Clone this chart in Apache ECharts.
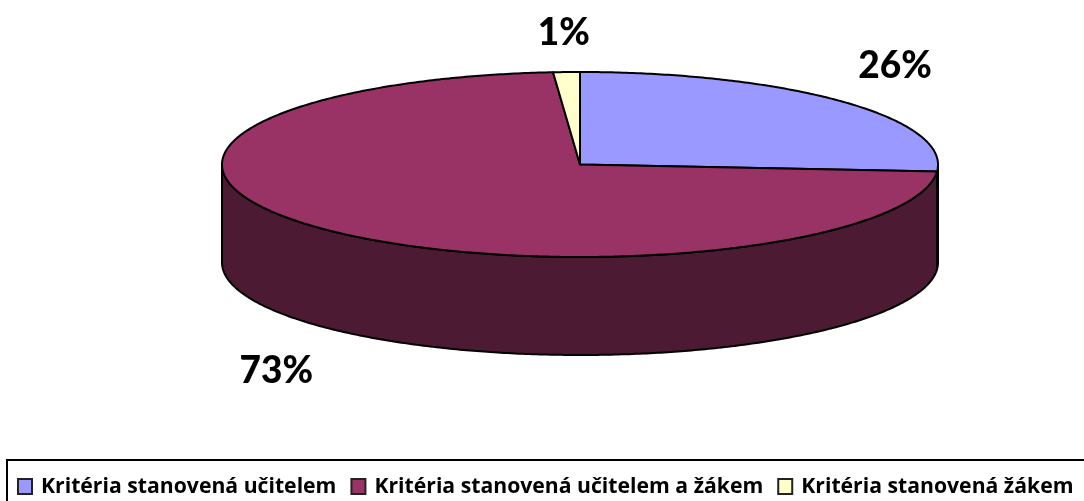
<!DOCTYPE html>
<html>
<head>
<meta charset="utf-8">
<style>
    html, body { margin: 0; padding: 0; background: #fff; overflow: hidden; }
    #chart { width: 1084px; height: 501px; }
</style>
<script src="https://cdn.jsdelivr.net/npm/echarts@6/dist/echarts.min.js"></script>
</head>
<body>
<div id="chart"></div>
<script>
const categories = ['Kritéria stanovená učitelem', 'Kritéria stanovená učitelem a žákem', 'Kritéria stanovená žákem']
const shares = [26.2, 72.6, 1.2]
const topColors = ['#9999FF', '#993366', '#FFFFCC']
const wallColors = ['#4D4D80', '#4D1A33', '#808066']

// ellipse of the pie top, and height of the side wall
const cx = 580
const cy = 164.5
const rx = 358
const ry = 92.5
const depth = 98

const total = shares.reduce((a, b) => a + b, 0)
const toAngle = v => echarts.number.linearMap(v, [0, total], [0, Math.PI * 2])
const rimPoint = (a, drop) => [cx + rx * Math.sin(a), cy - ry * Math.cos(a) + drop]

function arcPoints (from, to, drop) {
    const pts = []
    const steps = Math.max(2, Math.ceil((to - from) / 0.01))
    for (let i = 0; i <= steps; i++) {
        pts.push(rimPoint(from + (to - from) * i / steps, drop))
    }
    return pts
}

function renderSlice (params, api) {
    const idx = params.seriesIndex
    const before = shares.slice(0, idx).reduce((a, b) => a + b, 0)
    const from = toAngle(before)
    const to = toAngle(before + api.value(0))
    const outline = {stroke: '#000', lineWidth: 2, lineJoin: 'round'}
    const children = []

    // only the front half of the rim (90deg to 270deg) has a visible wall
    const wallFrom = Math.max(from, Math.PI / 2)
    const wallTo = Math.min(to, Math.PI * 1.5)
    if (wallTo > wallFrom) {
        const upper = arcPoints(wallFrom, wallTo, 0)
        const lower = arcPoints(wallFrom, wallTo, depth).reverse()
        children.push({
            type: 'polygon',
            z2: 1,
            shape: {points: upper.concat(lower)},
            style: Object.assign({fill: wallColors[idx]}, outline)
        })
    }

    children.push({
        type: 'polygon',
        z2: 2,
        shape: {points: [[cx, cy]].concat(arcPoints(from, to, 0))},
        style: Object.assign({fill: topColors[idx]}, outline)
    })

    // percent label sits outside the rim, below the wall on the front side
    const mid = (from + to) / 2
    const front = Math.cos(mid) < 0
    children.push({
        type: 'text',
        z2: 3,
        style: {
            x: cx + rx * 1.2 * Math.sin(mid),
            y: cy - ry * 1.135 * Math.cos(mid) + (front ? depth * 1.35 : -27),
            text: Math.round(api.value(0)) + '%',
            font: '900 37px Lato',
            fill: '#000',
            align: 'center',
            verticalAlign: 'middle'
        }
    })
    return {type: 'group', children}
}

const chart = echarts.init(document.getElementById('chart'), null, {renderer: 'canvas'})
chart.setOption({
    animation: false,
    backgroundColor: '#fff',
    legend: {
        left: 7,
        top: 460,
        width: 1300,
        orient: 'horizontal',
        icon: 'rect',
        itemWidth: 14,
        itemHeight: 15,
        itemGap: 14,
        padding: [16, 20, 40, 10],
        borderColor: '#000',
        borderWidth: 2,
        data: categories,
        selectedMode: false,
        itemStyle: {borderColor: '#222', borderWidth: 2},
        textStyle: {
            fontFamily: 'Open Sans',
            fontWeight: 'bold',
            fontSize: 21.2,
            color: '#000',
            padding: [0, 0, 0, 4]
        }
    },
    series: categories.map((name, i) => ({
        type: 'custom',
        name,
        coordinateSystem: 'none',
        renderItem: renderSlice,
        itemStyle: {color: topColors[i]},
        data: [[shares[i]]]
    }))
})
</script>
</body>
</html>
